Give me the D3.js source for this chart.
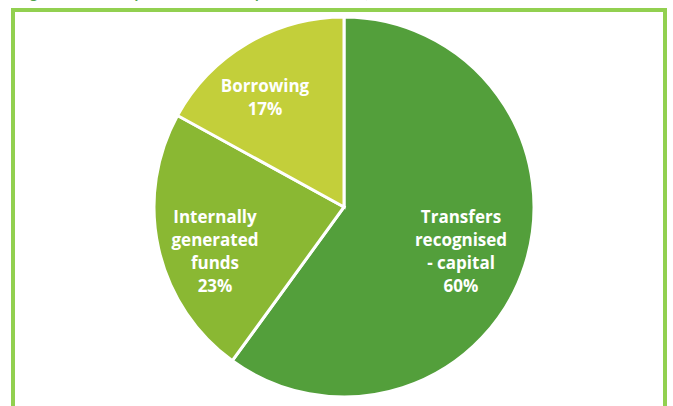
<!DOCTYPE html>
<html>
<head>
<meta charset="utf-8">
<script src="https://cdn.jsdelivr.net/npm/d3@7"></script>
<style>
  html, body { margin: 0; padding: 0; background: #ffffff; }
  svg { display: block; }
</style>
</head>
<body>
<svg id="chart" width="673" height="406"></svg>
<script>
// Sources of capital funding (share of total, %)
const categories = ["Transfers recognised - capital", "Internally generated funds", "Borrowing"];
const shares = [60, 23, 17];
const labelLines = [
  ["Transfers", "recognised", "- capital"],
  ["Internally", "generated", "funds"],
  ["Borrowing"]
];
const sliceColors = ["#539f3b", "#8ab833", "#c3cf3a"];

// Label block centres, relative to the pie centre
const labelOffsets = [[117, 45], [-129, 45], [-79, -109]];

const width = 673, height = 406;
const svg = d3.select("#chart");

// Heading line (sits above the visible frame)
svg.append("text")
  .attr("x", 13)
  .attr("y", -2)
  .attr("fill", "#4ea24a")
  .attr("font-family", "Lato, 'Open Sans', sans-serif")
  .attr("font-weight", "bold")
  .attr("font-size", 15)
  .attr("letter-spacing", 2.2)
  .text("Figure 5: Composition of capital finance, 2017/18");

// Frame
svg.append("rect")
  .attr("x", 13)
  .attr("y", 10)
  .attr("width", 652)
  .attr("height", 420)
  .attr("fill", "none")
  .attr("stroke", "#92d050")
  .attr("stroke-width", 4);

const cx = 344, cy = 207, r = 190;

const pie = d3.pie().sort(null).value(d => d.value);
const arcs = pie(categories.map((c, i) => ({ name: c, value: shares[i], lines: labelLines[i], color: sliceColors[i] })));

const arc = d3.arc().innerRadius(0).outerRadius(r);

const g = svg.append("g").attr("transform", `translate(${cx},${cy})`);

g.selectAll("path.slice")
  .data(arcs)
  .join("path")
  .attr("class", "slice")
  .attr("d", arc)
  .attr("fill", d => d.data.color)
  .attr("stroke", "#ffffff")
  .attr("stroke-width", 3)
  .attr("stroke-linejoin", "miter");

const lineHeight = 23;

arcs.forEach((d, i) => {
  const [x, y] = labelOffsets[i];
  const lines = d.data.lines.concat([d.data.value + "%"]);
  const t = g.append("text")
    .attr("text-anchor", "middle")
    .attr("fill", "#ffffff")
    .attr("font-family", "'Open Sans', Lato, sans-serif")
    .attr("font-weight", "bold")
    .attr("font-size", 17);
  const top = y - (lines.length - 1) * lineHeight / 2;
  lines.forEach((ln, k) => {
    t.append("tspan")
      .attr("x", x)
      .attr("y", top + k * lineHeight)
      .attr("dy", "0.35em")
      .text(ln);
  });
});
</script>
</body>
</html>
